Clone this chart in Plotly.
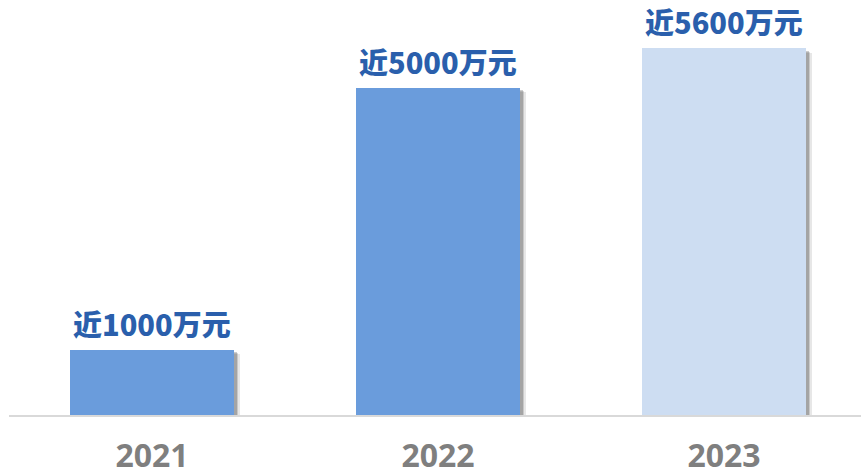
import plotly.graph_objects as go

# Annual figures (unit: 万元)
years = ["2021", "2022", "2023"]
values = [1000, 5000, 5600]
labels = ["近1000万元", "近5000万元", "近5600万元"]
bar_colors = ["#6A9CDC", "#6A9CDC", "#CDDDF2"]

BAR_W = 0.573
fig = go.Figure()

# soft drop shadow: a few offset, translucent layers behind each bar
for dx, dy, alpha in [(0.020, 75, 0.12), (0.015, 60, 0.18), (0.010, 45, 0.26)]:
    fig.add_trace(go.Bar(
        x=years, y=values, base=[-dy] * len(values),
        width=BAR_W, offset=-BAR_W / 2 + dx,
        marker=dict(color=f"rgba(60,60,60,{alpha})", line=dict(width=0)),
        hoverinfo="skip", showlegend=False,
    ))

fig.add_trace(go.Bar(
    x=years, y=values, width=BAR_W, offset=-BAR_W / 2,
    marker=dict(color=bar_colors, line=dict(width=0)),
    showlegend=False,
))

# value labels above the bars (x given as category index)
for i, (v, t) in enumerate(zip(values, labels)):
    fig.add_annotation(
        x=i, y=v, xref="x", yref="y", text=t, showarrow=False,
        yanchor="middle", yshift=27,
        font=dict(family="Noto Sans CJK SC", size=29, color="#2A5FAC", weight=900),
    )

fig.update_layout(
    width=861, height=476,
    margin=dict(l=9, r=0, t=22, b=61),
    paper_bgcolor="white", plot_bgcolor="white",
    barmode="overlay", bargap=0,
    xaxis=dict(
        type="category", automargin=False,
        range=[-0.5, 2.479], showgrid=False, zeroline=False,
        showline=True, linecolor="#D9D9D9", linewidth=2, layer="below traces",
        ticks="", ticklabelstandoff=12,
        tickfont=dict(family="Open Sans", size=32, color="#7F7F7F", weight="bold"),
    ),
    yaxis=dict(range=[0, 6000], visible=False, showgrid=False, zeroline=False),
)

fig.write_html("out.html")
